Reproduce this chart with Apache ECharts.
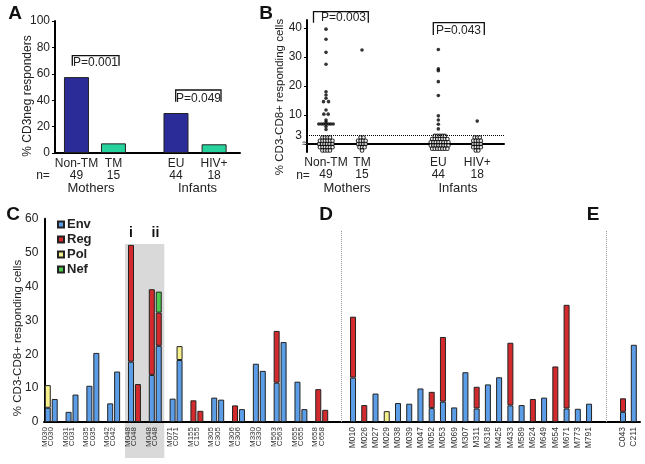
<!DOCTYPE html>
<html><head><meta charset="utf-8">
<script src="https://cdn.jsdelivr.net/npm/echarts@6/dist/echarts.min.js"></script>
<style>html,body{margin:0;padding:0;background:#fff}#c{width:645px;height:464px}</style>
</head><body><div id="c"></div>
<script>
// ---------- Panel A ----------
const aGroups = ['Non-TM', 'TM', 'EU', 'HIV+'];
const aN = ['49', '15', '44', '18'];
const aPos = [1, 2, 3.69, 4.72];
const aValues = [57.5, 7.3, 30.3, 6.6];
const aTicks = [0, 20, 40, 60, 80, 100];

// ---------- Panel B ----------
const bGroups = ['Non-TM', 'TM', 'EU', 'HIV+'];
const bN = ['49', '15', '44', '18'];
const bPos = [1, 2, 4.12, 5.2];
const bYLabels = [3, 10, 20, 30, 40];
const bThreshold = 3;
// responders: [offset, value]
const bNonTMResp = [[0,39.6],[0,36.1],[0,31.6],[0,27.5],[0,18.0],[0,16.9],[0,15.8],[-0.07,14.6],[0.07,14.6],[0,11.7],[-0.06,10.3],[0.06,10.3],[0,8.3],[0,7.6],[-0.2,6.9],[-0.13,6.9],[-0.07,6.9],[0,6.9],[0.07,6.9],[0.13,6.9],[0.2,6.9],[0,6.0],[0,5.0]];
const bTMResp = [[0,32.4]];
const bEUResp = [[0,32.6],[0,25.9],[0,25.3],[0,21.5],[0,16.7],[0,9.7],[0,8.3],[0,6.8],[0,5.2]];
const bHIVResp = [[0,7.9]];
// non-responders (below threshold): [offset, value]
const bNonTMLow = [[-0.1,2.2],[-0.03,2.2],[0.04,2.2],[0.11,2.2],[-0.17,1.1],[-0.1,1.1],[-0.03,1.1],[0.04,1.1],[0.11,1.1],[0.18,1.1],[-0.19,0],[-0.11,0],[-0.04,0],[0.03,0],[0.1,0],[0.18,0],[-0.17,-1.1],[-0.1,-1.1],[-0.03,-1.1],[0.04,-1.1],[0.11,-1.1],[0.18,-1.1],[-0.1,-2.2],[-0.03,-2.2],[0.04,-2.2],[0.11,-2.2]];
const bTMLow = [[-0.04,2.2],[0.04,2.2],[-0.11,1.1],[-0.04,1.1],[0.03,1.1],[0.1,1.1],[-0.11,0],[-0.04,0],[0.03,0],[0.1,0],[-0.07,-1.1],[0,-1.1],[0.07,-1.1],[0,-2.2]];
const bEULow = [[-0.1,2.8],[-0.03,2.8],[0.04,2.8],[0.11,2.8],[0.18,2.8],[-0.17,1.7],[-0.1,1.7],[-0.03,1.7],[0.04,1.7],[0.11,1.7],[0.18,1.7],[0.25,1.7],[-0.21,0.6],[-0.14,0.6],[-0.07,0.6],[0,0.6],[0.07,0.6],[0.14,0.6],[0.21,0.6],[0.28,0.6],[-0.21,-0.5],[-0.14,-0.5],[-0.07,-0.5],[0,-0.5],[0.07,-0.5],[0.14,-0.5],[0.21,-0.5],[0.28,-0.5],[-0.17,-1.6],[-0.1,-1.6],[-0.03,-1.6],[0.04,-1.6],[0.11,-1.6],[0.18,-1.6],[0.25,-1.6]];
const bHIVLow = [[-0.07,2.2],[0,2.2],[0.07,2.2],[-0.11,1.1],[-0.04,1.1],[0.03,1.1],[0.1,1.1],[-0.11,0],[-0.04,0],[0.03,0],[0.1,0],[-0.11,-1.1],[-0.04,-1.1],[0.03,-1.1],[0.1,-1.1],[-0.04,-2.2],[0.03,-2.2]];

// ---------- Panel C ----------
const cPairs = ['030','031','035','042','048','048','071','155','305','306','330','563','655','658'];
// bars in order M,C for each pair
const cEnv = [4.2,6.8, 3.0,8.1, 10.7,20.4, 5.5,14.9, 17.8,null, 13.9,22.5, 6.9,18.3, null,null, 7.2,6.6, null,3.8, 17.2,15.1, 11.6,23.6, 11.9,3.8, null,null];
const cReg = [null,null, null,null, null,null, null,null, 34.5,11.2, 25.3,9.8, null,null, 6.4,3.3, null,null, 4.9,null, null,null, 15.3,null, null,null, 9.7,3.6];
const cPol = [6.7,null, null,null, null,null, null,null, null,null, null,null, null,4.1, null,null, null,null, null,null, null,null, null,null, null,null, null,null];
const cNef = [null,null, null,null, null,null, null,null, null,null, null,6.2, null,null, null,null, null,null, null,null, null,null, null,null, null,null, null,null];
const cTicks = [0,10,20,30,40,50,60];

// ---------- Panel D ----------
const dCats = ['M010','M026','M027','M029','M038','M039','M047','M052','M053','M069','M307','M311','M318','M425','M433','M589','M624','M649','M654','M671','M773','M791'];
const dEnv = [13.1,null,8.4,null,5.6,5.4,9.9,4.1,6.0,4.3,14.7,4.0,11.1,13.2,4.9,5.0,null,7.2,null,4.0,3.9,5.4];
const dReg = [18.0,5.0,null,null,null,null,null,4.8,19.1,null,null,6.4,null,null,18.5,null,6.8,null,16.4,30.6,null,null];
const dPol = [null,null,null,3.2,null,null,null,null,null,null,null,null,null,null,null,null,null,null,null,null,null,null];

// ---------- Panel E ----------
const eCats = ['C043','C211'];
const eEnv = [3.0,22.8];
const eReg = [4.0,null];

// ================= build =================
const FONT = 'Liberation Sans, Arial, Helvetica, sans-serif';
const COL = {env:'#5b9de6', reg:'#d32a2e', pol:'#f6f08c', nef:'#4fc94f', navy:'#2c2c98', teal:'#27d39c'};
const BORDER = '#222';

// C slots: M, C, gap per pair
const cSlots = [], cLabelBySlot = [], cEnvS = [], cRegS = [], cPolS = [], cNefS = [];
cPairs.forEach((p, k) => {
  ['M','C','g'].forEach((t, j) => {
    cSlots.push('s' + (3*k+j));
    cLabelBySlot.push(t === 'M' ? 'M' + p + '\nC' + p : '');
    const bi = 2*k + (t === 'C' ? 1 : 0);
    const ok = t !== 'g';
    cEnvS.push(ok ? cEnv[bi] : null);
    cRegS.push(ok ? cReg[bi] : null);
    cPolS.push(ok ? cPol[bi] : null);
    cNefS.push(ok ? cNef[bi] : null);
  });
});

function stackSeries(idx, env, reg, pol, nef) {
  const mk = (name, data, color) => ({type:'bar', name:name, xAxisIndex:idx, yAxisIndex:idx, stack:'s'+idx, barWidth:6, data:data,
    itemStyle:{color:color, borderColor:BORDER, borderWidth:1}});
  const out = [mk('Env', env, COL.env), mk('Reg', reg, COL.reg)];
  if (pol) out.push(mk('Pol', pol, COL.pol));
  if (nef) out.push(mk('Nef', nef, COL.nef));
  return out;
}

const bResp = [], bLow = [];
[bNonTMResp, bTMResp, bEUResp, bHIVResp].forEach((arr, g) => arr.forEach(p => bResp.push([bPos[g] + p[0], p[1]])));
[bNonTMLow, bTMLow, bEULow, bHIVLow].forEach((arr, g) => arr.forEach(p => bLow.push([bPos[g] + p[0], p[1]])));

const axisLine2 = {show:true, lineStyle:{color:'#000', width:2}};
const lblStyle = {color:'#222', fontFamily:FONT, fontSize:12};
const outerNone = {outerBoundsMode:'none'};

const grids = [
  Object.assign({left:55, top:21, width:185, height:132}, outerNone),   // 0 A
  Object.assign({left:307, top:20, width:197, height:132}, outerNone),  // 1 B
  Object.assign({left:44.3, top:218.8, width:42*6.936, height:203.2}, outerNone), // 2 C
  Object.assign({left:347.4, top:218.8, width:22*11.24, height:203.2}, outerNone), // 3 D
  Object.assign({left:617.6, top:218.8, width:21.6, height:203.2}, outerNone),   // 4 E
  Object.assign({left:44, top:218.8, width:596, height:203.2}, outerNone)        // 5 baseline
];

function xLabelFmt(pos, names, ns) {
  return function (v) {
    const i = pos.indexOf(v);
    if (i < 0) return '';
    return '{a|' + names[i] + '}\n{b|' + ns[i] + '}';
  };
}
const xRich = {a:{fontFamily:FONT, fontSize:12, color:'#222', lineHeight:12}, b:{fontFamily:FONT, fontSize:12, color:'#222', lineHeight:12}};

const xAxes = [
  {gridIndex:0, type:'value', min:0.42, max:5.42, axisLine:axisLine2, axisTick:{show:false}, splitLine:{show:false},
   axisLabel:{customValues:aPos, formatter:xLabelFmt(aPos, aGroups, aN), margin:5, rich:xRich, lineHeight:12}},
  {gridIndex:1, type:'value', min:0.472, max:5.944, axisLine:axisLine2, axisTick:{show:false}, splitLine:{show:false},
   axisLabel:{customValues:bPos, formatter:xLabelFmt(bPos, bGroups, bN), margin:5, rich:xRich, lineHeight:12}},
  {gridIndex:2, type:'category', data:cSlots, axisLine:{show:false}, axisTick:{show:false},
   axisLabel:{interval:0, rotate:90, formatter:(v, i) => cLabelBySlot[i], fontFamily:FONT, fontSize:8, lineHeight:6.2, color:'#333', margin:5}},
  {gridIndex:3, type:'category', data:dCats, axisLine:{show:false}, axisTick:{show:false},
   axisLabel:{interval:0, rotate:90, fontFamily:FONT, fontSize:8.5, color:'#333', margin:5}},
  {gridIndex:4, type:'category', data:eCats, axisLine:{show:false}, axisTick:{show:false},
   axisLabel:{interval:0, rotate:90, fontFamily:FONT, fontSize:8.5, color:'#333', margin:5}},
  {gridIndex:5, type:'value', min:0, max:596, axisLine:axisLine2, axisTick:{show:false}, axisLabel:{show:false}, splitLine:{show:false}}
];
const yAxes = [
  {gridIndex:0, type:'value', min:0, max:100, interval:20, axisLine:axisLine2, axisTick:{show:true, length:3, lineStyle:{color:'#000'}}, splitLine:{show:false},
   axisLabel:Object.assign({margin:5}, lblStyle)},
  {gridIndex:1, type:'value', min:-2.76, max:42.76, axisLine:axisLine2, splitLine:{show:false},
   axisTick:{show:true, length:3, customValues:[10,20,30,40], lineStyle:{color:'#000'}},
   axisLabel:Object.assign({margin:5, customValues:bYLabels}, lblStyle)},
  {gridIndex:2, type:'value', min:0, max:60, interval:10, axisLine:axisLine2, axisTick:{show:false}, splitLine:{show:false},
   axisLabel:Object.assign({margin:6}, lblStyle)},
  {gridIndex:3, type:'value', min:0, max:60, show:false},
  {gridIndex:4, type:'value', min:0, max:60, show:false},
  {gridIndex:5, type:'value', min:0, max:60, show:false}
];

const series = [
  {type:'bar', xAxisIndex:0, yAxisIndex:0, barWidth:25,
   data:aPos.map((p, i) => [p, aValues[i]]),
   itemStyle:{borderColor:BORDER, borderWidth:1, color:(p) => (p.dataIndex % 2 === 0 ? COL.navy : COL.teal)}},
  {type:'scatter', xAxisIndex:1, yAxisIndex:1, data:bLow, symbolSize:3.6,
   itemStyle:{color:'#fff', borderColor:'#000', borderWidth:1.1}},
  {type:'scatter', xAxisIndex:1, yAxisIndex:1, data:bResp, symbolSize:3.6,
   itemStyle:{color:'#000'},
   markLine:{silent:true, symbol:'none', label:{show:false}, lineStyle:{type:'dotted', color:'#000', width:1},
     data:[{yAxis:bThreshold}]}},
  {type:'line', xAxisIndex:5, yAxisIndex:5, data:[],
   markLine:{silent:true, symbol:'none', label:{show:false}, lineStyle:{type:'dotted', color:'#999', width:1},
     data:[[{coord:[297,0]},{coord:[297,56.4]}],[{coord:[562,0]},{coord:[562,56.4]}]]}}
].concat(
  stackSeries(2, cEnvS, cRegS, cPolS, cNefS),
  stackSeries(3, dEnv, dReg, dPol, null),
  stackSeries(4, eEnv, eReg, null, null)
);

function txt(x, y, text, size, opts) {
  return Object.assign({type:'text', x:x, y:y, z:10,
    style:Object.assign({text:text, fontFamily:FONT, fontSize:size, fill:'#222', align:'center', verticalAlign:'middle'}, (opts && opts.style) || {})},
    (opts && opts.el) || {});
}
function bracket(x1, x2, yTop, yBot) {
  return {type:'polyline', z:10, shape:{points:[[x1,yBot],[x1,yTop],[x2,yTop],[x2,yBot]]}, style:{stroke:'#111', lineWidth:1.3, fill:null}};
}

const graphics = [
  {type:'rect', z:-5, shape:{x:125, y:244, width:39.3, height:214}, style:{fill:'#d9d9d9'}},
  txt(15, 14, 'A', 19, {style:{fontWeight:'bold', fill:'#111'}}),
  txt(266, 14, 'B', 19, {style:{fontWeight:'bold', fill:'#111'}}),
  txt(13, 215, 'C', 19, {style:{fontWeight:'bold', fill:'#111'}}),
  txt(326, 215, 'D', 19, {style:{fontWeight:'bold', fill:'#111'}}),
  txt(593, 215, 'E', 19, {style:{fontWeight:'bold', fill:'#111'}}),
  txt(28, 96, '% CD3neg responders', 12, {el:{rotation:Math.PI/2}}),
  txt(280, 97, '% CD3-CD8+ responding cells', 11.5, {el:{rotation:Math.PI/2}}),
  txt(18, 338, '% CD3-CD8+ responding cells', 11.5, {el:{rotation:Math.PI/2}}),
  txt(43, 176, 'n=', 12), txt(303, 176, 'n=', 12),
  txt(91, 188, 'Mothers', 13), txt(197.5, 188, 'Infants', 13),
  txt(347, 188, 'Mothers', 13), txt(458, 188, 'Infants', 13),
  bracket(72.3, 119, 55.7, 65.7), txt(95.5, 62.5, 'P=0.001', 12),
  bracket(175.7, 221, 90, 101.7), txt(198.5, 98.5, 'P=0.049', 12),
  bracket(313.5, 368.3, 11.7, 22.7), txt(343.5, 17.5, 'P=0.003', 12),
  bracket(433.3, 484.3, 22.7, 35), txt(458.5, 30.8, 'P=0.043', 12),
  txt(305, 144, '≈', 11),
  txt(131, 233.5, 'i', 14, {style:{fontWeight:'bold', fill:'#111'}}),
  txt(155.5, 233.5, 'ii', 14, {style:{fontWeight:'bold', fill:'#111'}})
];

const chart = echarts.init(document.getElementById('c'), null, {renderer:'canvas'});
chart.setOption({
  animation:false,
  backgroundColor:'#fff',
  textStyle:{fontFamily:FONT},
  grid:grids, xAxis:xAxes, yAxis:yAxes,
  legend:{data:['Env','Reg','Pol','Nef'], orient:'vertical', left:52, top:213, itemWidth:6, itemHeight:6, itemGap:2, icon:'rect',
    textStyle:{fontFamily:FONT, fontSize:13, fontWeight:'bold', color:'#222', padding:[0,0,0,-2]}},
  series:series,
  graphic:{elements:graphics}
});
</script></body></html>
